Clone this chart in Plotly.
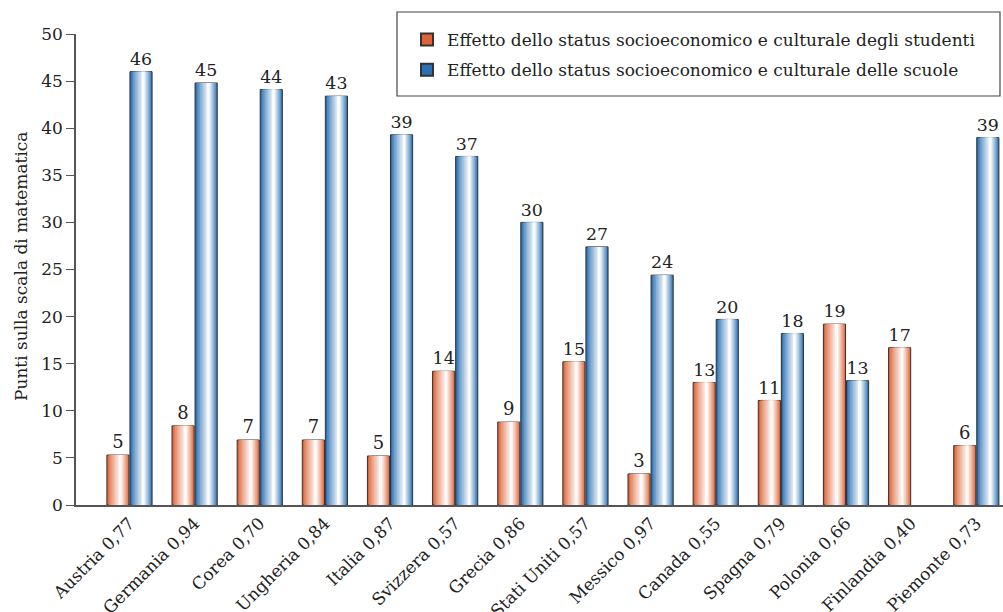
import plotly.graph_objects as go

categories = ["Austria 0,77", "Germania 0,94", "Corea 0,70", "Ungheria 0,84", "Italia 0,87",
              "Svizzera 0,57", "Grecia 0,86", "Stati Uniti 0,57", "Messico 0,97", "Canada 0,55",
              "Spagna 0,79", "Polonia 0,66", "Finlandia 0,40", "Piemonte 0,73"]
studenti = [5.3, 8.4, 6.9, 6.9, 5.2, 14.2, 8.8, 15.2, 3.3, 13.0, 11.1, 19.2, 16.7, 6.3]
scuole = [46.0, 44.8, 44.1, 43.4, 39.3, 37.0, 30.0, 27.4, 24.4, 19.7, 18.2, 13.2, None, 39.0]
yticks = [0, 5, 10, 15, 20, 25, 30, 35, 40, 45, 50]
name_studenti = "Effetto dello status socioeconomico e culturale degli studenti"
name_scuole = "Effetto dello status socioeconomico e culturale delle scuole"
y_title = "Punti sulla scala di matematica"

FONT = "DejaVu Serif"
W = 0.34
OFF = 0.177
LAYERS = 9

# figure geometry (px)
FW, FH = 1003, 612
ML, MT, MB = 76, 34, 107
PW, PH = FW - ML, FH - MT - MB


def mix(c1, c2, t):
    return "rgb({},{},{})".format(*[round(a + (b - a) * t) for a, b in zip(c1, c2)])


fig = go.Figure()
idx = list(range(len(categories)))

series = [
    (studenti, -OFF, (222, 100, 55), name_studenti, "s"),
    (scuole, OFF, (42, 112, 178), name_scuole, "c"),
]

for vals, off, edge, nm, grp in series:
    for k in range(LAYERS):
        frac = k / LAYERS
        w = W * (1 - frac) ** 1.1
        shift = (1 - w / W) * 0.12 * W
        t = min(0.97, (k / (LAYERS - 1)) ** 0.8 * 0.97)
        col = mix(edge, (255, 255, 255), t)
        xs = [i + off + shift for i in idx]
        if k == 0:
            kw = dict(
                text=[None if v is None else f"{v:.0f}" for v in vals],
                textposition="outside",
                textfont=dict(family=FONT, size=18, color="#222"),
                cliponaxis=False,
                marker=dict(color=col, line=dict(color="#333", width=1)),
                showlegend=True,
                name=nm,
                legendgroup=grp,
            )
        else:
            kw = dict(marker=dict(color=col, line=dict(width=0)), showlegend=False,
                      textposition="none", legendgroup=grp)
        fig.add_trace(go.Bar(x=xs, y=vals, width=w, hoverinfo="skip", **kw))

fig.update_layout(
    width=FW, height=FH,
    barmode="overlay",
    paper_bgcolor="white", plot_bgcolor="white",
    margin=dict(l=ML, r=0, t=MT, b=MB, autoexpand=False),
    font=dict(family=FONT, size=17, color="#222"),
    legend=dict(
        xref="container", yref="container",
        x=407 / FW, xanchor="left", y=1 - 22 / FH, yanchor="top",
        borderwidth=0, bgcolor="rgba(0,0,0,0)",
        font=dict(family=FONT, size=17, color="#222"),
        itemsizing="constant", traceorder="grouped", tracegroupgap=5,
    ),
    xaxis=dict(
        range=[-0.821, 13.41], tickmode="array", tickvals=idx, ticktext=categories,
        tickangle=-45, showgrid=False, zeroline=False, showline=True, automargin=False,
        linecolor="#555", linewidth=1.5, ticks="",
        tickfont=dict(family=FONT, size=17, color="#222"),
    ),
    yaxis=dict(
        range=[0, 50], tickmode="array", tickvals=yticks, showgrid=False, zeroline=False,
        showline=True, linecolor="#555", linewidth=1.5, ticks="outside", ticklen=8,
        tickcolor="#555", tickwidth=1.2, automargin=False,
        tickfont=dict(family=FONT, size=17, color="#222"),
    ),
    annotations=[dict(
        text=y_title, textangle=-90, xref="paper", yref="paper",
        x=(21 - ML) / PW, y=(FH - MB - 266) / PH, xanchor="center", yanchor="middle",
        showarrow=False, font=dict(family=FONT, size=17, color="#222"),
    )],
    shapes=[dict(
        type="rect", xref="paper", yref="paper",
        x0=(397 - ML) / PW, x1=(1000 - ML) / PW,
        y0=(FH - MB - 96) / PH, y1=(FH - MB - 12) / PH,
        line=dict(color="#444", width=1.2), fillcolor="rgba(0,0,0,0)", layer="above",
    )],
)

fig.write_html("out.html", config={"displayModeBar": False},
               post_script="document.body.style.margin='0';")
